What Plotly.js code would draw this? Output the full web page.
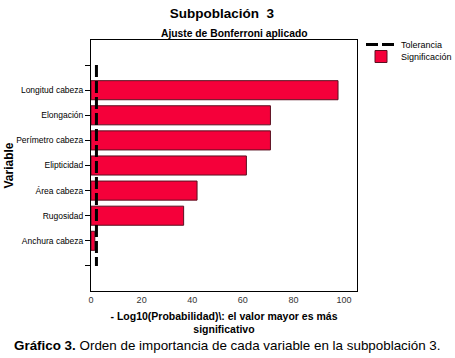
<!DOCTYPE html>
<html>
<head>
<meta charset="utf-8">
<script src="https://cdn.plot.ly/plotly-3.0.1.min.js"></script>
<style>
html,body{margin:0;padding:0;background:#fff;}
#chart{width:455px;height:358px;}
</style>
</head>
<body>
<div id="chart"></div>
<script>
const variables = ['Longitud cabeza','Elongación','Perímetro cabeza','Elipticidad','Área cabeza','Rugosidad','Anchura cabeza'];
const significance = [97.6, 70.9, 70.9, 61.4, 41.9, 36.6, 1.5];
const tolerance = 2.15;
const xTicks = [0, 20, 40, 60, 80, 100];

const slots = variables.map((_, i) => i + 1);
const tickLabels = [''].concat(variables, ['']);
const tickPositions = tickLabels.map((_, i) => i);

const FONT = 'Liberation Sans, Arial, sans-serif';

const traces = [
  {
    type: 'bar',
    orientation: 'h',
    name: 'Significación',
    x: significance,
    y: slots,
    width: 0.76,
    marker: {color: '#F5003A', line: {color: '#5a1020', width: 1}},
    legend: 'legend2',
    hoverinfo: 'x+y'
  },
  {
    type: 'scatter',
    mode: 'lines',
    name: 'Tolerancia',
    x: [tolerance, tolerance],
    y: [0, variables.length + 1],
    line: {color: '#000', width: 3, dash: '12px,4px'},
    legend: 'legend'
  }
];

const legendBase = {
  xref: 'container', yref: 'container',
  x: 361 / 455, xanchor: 'left',
  yanchor: 'top',
  font: {family: FONT, size: 9, color: '#000'},
  bgcolor: 'rgba(0,0,0,0)',
  itemwidth: 30
};

const layout = {
  width: 455,
  height: 358,
  margin: {l: 91, r: 98, t: 40, b: 67},
  paper_bgcolor: '#fff',
  plot_bgcolor: '#fff',
  font: {family: FONT, color: '#000', size: 9},
  title: {
    text: '<b>Subpoblación\u00a0 3</b>',
    font: {family: FONT, size: 13.5, color: '#000'},
    x: 222 / 455, xref: 'container', xanchor: 'center',
    y: 1 - 13 / 358, yref: 'container', yanchor: 'middle'
  },
  xaxis: {
    range: [0, 105.1],
    tickvals: xTicks,
    ticks: '',
    showgrid: false,
    zeroline: false,
    showline: true,
    mirror: true,
    linecolor: '#000',
    linewidth: 1,
    tickfont: {family: FONT, size: 9, color: '#333'},
    title: {
      text: '<b>- Log10(Probabilidad)\\: el valor mayor es más<br>significativo</b>',
      font: {family: FONT, size: 10.5, color: '#000'},
      standoff: 8
    }
  },
  yaxis: {
    range: [variables.length + 2, -1],
    tickvals: tickPositions,
    ticktext: tickLabels,
    ticks: 'outside',
    ticklen: 5,
    tickcolor: '#000',
    showgrid: false,
    zeroline: false,
    showline: true,
    mirror: true,
    linecolor: '#000',
    linewidth: 1,
    tickfont: {family: FONT, size: 8.5, color: '#000'}
  },
  showlegend: true,
  legend: Object.assign({}, legendBase, {y: 1 - 30 / 358}),
  legend2: Object.assign({}, legendBase, {y: 1 - 42 / 358}),
  annotations: [
    {
      text: '<b>Ajuste de Bonferroni aplicado</b>',
      xref: 'paper', yref: 'paper',
      x: (234 - 91) / 266, y: 1 + 7 / 251,
      xanchor: 'center', yanchor: 'middle',
      showarrow: false,
      font: {family: FONT, size: 10.3, color: '#000'}
    },
    {
      text: '<b>Variable</b>',
      xref: 'paper', yref: 'paper',
      x: (8 - 91) / 266, y: 0.5,
      xanchor: 'center', yanchor: 'middle',
      textangle: -90,
      showarrow: false,
      font: {family: FONT, size: 12, color: '#000'}
    },
    {
      text: '<b>Gráfico 3.</b> Orden de importancia de cada variable en la subpoblación 3.',
      xref: 'paper', yref: 'paper',
      x: (227 - 91) / 266, y: -(345 - 291) / 251,
      xanchor: 'center', yanchor: 'middle',
      showarrow: false,
      font: {family: FONT, size: 13.4, color: '#000'}
    }
  ]
};

Plotly.newPlot('chart', traces, layout, {displayModeBar: false, staticPlot: true});
</script>
</body>
</html>
